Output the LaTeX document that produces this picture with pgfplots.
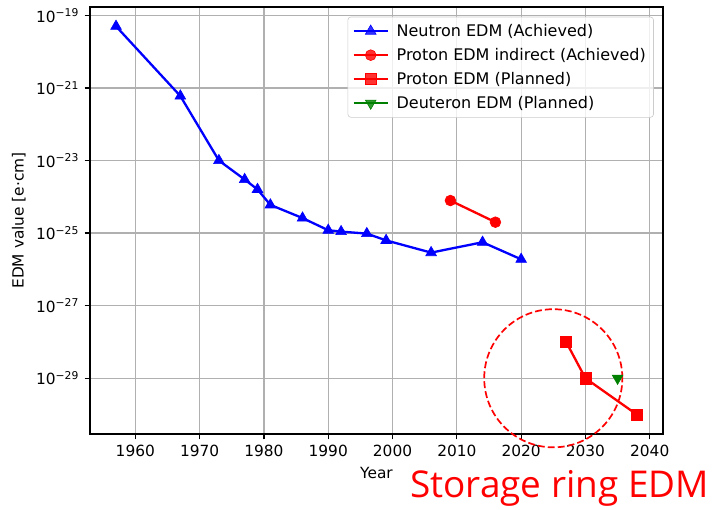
\documentclass[border=0pt]{standalone}
\usepackage{fontspec}
\setmainfont{DejaVu Sans}
\newfontfamily\ringfont{Open Sans}
\usepackage{pgfplots}
\pgfplotsset{compat=1.18}
\definecolor{mplgreen}{RGB}{0,128,0}
\definecolor{gridgray}{RGB}{176,176,176}
\begin{document}
\begin{tikzpicture}
\path[use as bounding box] (-58.5pt,-49.4pt) rectangle (405pt,282.1pt);
\begin{axis}[
  scale only axis, width=372.45pt, height=277.55pt,
  xmin=1952.95, xmax=2042.05,
  ymode=log, ymin=2.92e-31, ymax=1.7e-19,
  xtick={1960,1970,1980,1990,2000,2010,2020,2030,2040},
  xticklabels={1960,1970,1980,1990,2000,2010,2020,2030,2040},
  ytick={1e-29,1e-27,1e-25,1e-23,1e-21,1e-19},
  yticklabels={10\textsuperscript{−29},10\textsuperscript{−27},10\textsuperscript{−25},10\textsuperscript{−23},10\textsuperscript{−21},10\textsuperscript{−19}},
  minor y tick num=0,
  grid=major,
  major grid style={color=gridgray, line width=0.8pt},
  tick align=outside, tick pos=left,
  major tick length=3.5pt,
  every tick/.style={black, line width=0.8pt},
  axis line style={line width=0.8pt},
  xlabel={Year}, ylabel={EDM value [e·cm]},
  tick label style={font=\fontsize{10}{12}\selectfont},
  label style={font=\fontsize{10}{12}\selectfont},
  clip=false,
  legend style={at={(1,1)}, xshift=-5.9pt, yshift=-6.3pt, anchor=north east,
    draw=black!20, rounded corners=2pt, fill=white, fill opacity=0.8, text opacity=1,
    font=\fontsize{10.4}{12.5}\selectfont, row sep=2.2pt, inner xsep=3pt, inner ysep=2.5pt,
    cells={anchor=west},
    /tikz/every odd column/.append style={column sep=3pt}},
  legend image code/.code={\draw[mark repeat=2,mark phase=2] plot coordinates {(0cm,0cm)(0.39cm,0cm)(0.78cm,0cm)};},
]
\addplot[blue, line width=1.5pt, mark=triangle*, mark size=4pt, mark options={line width=0.4pt}] coordinates {
(1957,5e-20)(1967,6e-22)(1973,1e-23)(1977,3e-24)(1979,1.6e-24)(1981,6e-25)(1986,2.6e-25)(1990,1.2e-25)(1992,1.1e-25)(1996,9.7e-26)(1999,6.3e-26)(2006,2.9e-26)(2014,5.6e-26)(2020,1.9e-26)};
\addlegendentry{Neutron EDM (Achieved)}
\addplot[red, line width=1.5pt, mark=*, mark size=3.5pt, mark options={line width=0.4pt}] coordinates {(2009,7.9e-25)(2016,2e-25)};
\addlegendentry{Proton EDM indirect (Achieved)}
\addplot[red, line width=1.5pt, mark=square*, mark size=3.6pt, mark options={line width=0.4pt}] coordinates {(2027,1e-28)(2030,1e-29)(2038,1e-30)};
\addlegendentry{Proton EDM (Planned)}
\addplot[mplgreen, line width=1.5pt, mark=triangle*, mark size=4pt, mark options={line width=0.4pt, rotate=180}] coordinates {(2035,1e-29)};
\addlegendentry{Deuteron EDM (Planned)}
\draw[red, line width=1.1pt, dash pattern=on 4.5pt off 2pt] (axis cs:2025,1e-29) circle[radius=44.9pt];
\end{axis}
\node[anchor=base west, text=red, inner sep=0pt] at (208pt,-41.6pt) {\ringfont\fontsize{24}{28}\selectfont Storage ring EDM};
\end{tikzpicture}
\end{document}
